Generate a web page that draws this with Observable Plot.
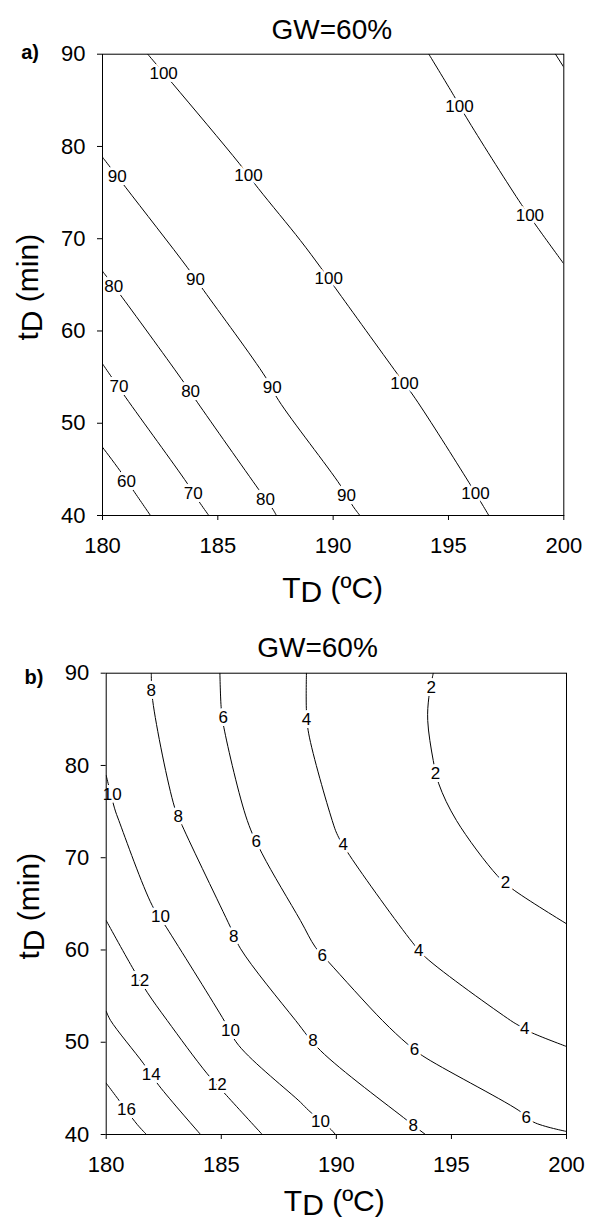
<!DOCTYPE html>
<html><head><meta charset="utf-8">
<script src="https://cdn.jsdelivr.net/npm/d3@7"></script>
<script src="https://cdn.jsdelivr.net/npm/@observablehq/plot@0.6"></script>
<style>
body{margin:0;background:#fff;}
#wrap{position:relative;width:589px;height:1222px;overflow:hidden;}
#pa{position:absolute;left:0;top:0;}
#pb{position:absolute;left:0;top:620px;}
svg{overflow:visible;}
</style></head><body><div id="wrap"><div id="pa"></div><div id="pb"></div></div>
<script>
// ---- shared axis data ----
const xTicks = [180, 185, 190, 195, 200];
const yTicks = [40, 50, 60, 70, 80, 90];
const titleText = "GW=60%";

// ---- panel a: contour lines [T_D (ºC), t_D (min)] ----
const a100_1 = [[181.96,90],[183.05,86.79],[185.94,78.12],[186.76,75.44],[188.58,69.81],[189.45,66.91],[190.10,64.64],[192.78,55.36],[193.57,52.65],[195.88,43.61],[196.75,40]];
const a100_2 = [[194.15,90],[195.23,85.52],[195.77,83.17],[198.05,74.14],[198.85,71.25],[200,67.28]];
const a100_3 = [[199.64,90],[200,88.59]];
const a90 = [[180,78.84],[181.00,75.58],[183.67,66.91],[184.39,64.39],[187.07,54.99],[187.64,52.46],[190.32,43.25],[190.87,40.97],[191.16,40]];
const a80 = [[180,66.48],[180.85,63.66],[183.52,54.45],[184.11,52.28],[186.78,42.79],[187.40,40.62],[187.54,40]];
const a70 = [[180,56.44],[181.00,52.82],[183.67,43.50],[184.25,41.27],[184.61,40]];
const a60 = [[180,47.40],[180.75,44.88],[181.36,42.63],[182.08,40]];
// contour labels [level, T, t]
const aLabels = [
  [100,182.65,87.9],[100,186.33,76.9],[100,189.81,65.7],[100,193.09,54.28],[100,196.17,42.35],
  [100,195.48,84.33],[100,198.53,72.52],
  [90,180.64,76.78],[90,184.03,65.55],[90,187.36,53.91],[90,190.58,42.17],
  [80,180.49,64.82],[80,183.82,53.47],[80,187.07,41.70],
  [70,180.71,54.01],[70,183.93,42.35],
  [60,181.04,43.72]
];

// ---- panel b ----
const b2 = [[194.21,90],[194.02,87.40],[193.97,84.87],[194.21,80.54],[194.45,78.01],[195.22,74.03],[196.99,68.07],[197.64,66.63],[200,62.84]];
const b4 = [[188.70,90],[188.70,85.96],[188.80,83.43],[189.82,74.03],[190.06,72.41],[190.58,70.24],[193.30,60.84],[193.87,59.22],[197.57,52.36],[197.93,51.81],[198.44,51.09],[200,49.54]];
const b6 = [[184.94,90],[185.00,86.14],[185.11,84.15],[186.13,74.03],[186.78,70.42],[188.44,63.19],[189.09,60.30],[189.67,58.68],[192.0,52.36],[193.08,49.83],[193.73,48.56],[197.93,42.60],[198.58,41.33],[200,40.33]];
const b8 = [[181.96,90],[182.02,87.04],[182.97,75.48],[183.30,73.49],[185.40,62.47],[185.84,60.13],[188.23,52.36],[189.31,49.10],[193.08,41.52],[193.87,40]];
const b10 = [[180,78.91],[180.37,75.30],[180.55,74.03],[182.0,64.82],[182.61,62.47],[185.04,52.71],[185.76,49.65],[188.44,43.50],[188.80,42.60],[189.78,40.51],[189.96,40]];
const b12 = [[180,63.19],[181.13,58.13],[181.78,55.42],[182.65,52.36],[184.39,46.58],[185.23,44.23],[186.78,40]];
const b14 = [[180,53.36],[180.19,52.36],[181.63,47.66],[182.29,45.31],[184.10,40]];
const b16 = [[180,45.56],[180.40,44.23],[181.35,41.08],[181.75,40]];
const bLabels = [
  [2,194.12,88.48],[2,194.31,79.16],[2,197.35,67.35],
  [4,188.70,84.95],[4,190.30,71.43],[4,193.58,59.94],[4,198.18,51.46],
  [6,185.08,85.23],[6,186.52,71.8],[6,189.39,59.40],[6,193.40,49.22],[6,198.25,41.88],
  [8,181.96,88.12],[8,183.13,74.46],[8,185.54,61.46],[8,188.99,50.18],[8,193.34,40.94],
  [10,180.26,76.85],[10,182.36,63.63],[10,185.40,51.3],[10,189.31,41.44],
  [12,181.46,56.69],[12,184.82,45.42],
  [14,181.96,46.50],
  [16,180.88,42.68]
];

const FONT = "'Liberation Sans', Arial, Helvetica, sans-serif";

function panel(c) {
  const rows = c.lines.flatMap((pts, i) => pts.map(([T, t]) => ({T, t, id: i})));
  const labs = c.labels.map(([level, T, t]) => ({level, T, t}));
  const txt = (s, o) => Plot.text([s], {text: d => d, fill: "black", ...o});
  return Plot.plot({
    width: 589, height: c.height,
    marginTop: c.mt, marginBottom: c.mb, marginLeft: c.ml, marginRight: c.mr,
    style: {fontFamily: FONT, fontSize: "22px", color: "black", background: "white", overflow: "visible"},
    x: {domain: [180, 200]},
    y: {domain: [40, 90]},
    marks: [
      Plot.line(rows, {x: "T", y: "t", z: "id", curve: "catmull-rom", stroke: "black", strokeWidth: 1, clip: true}),
      Plot.text(labs, {x: "T", y: "t", text: d => String(d.level), fontSize: 17, fill: "black", stroke: "white", strokeWidth: 6}),
      Plot.axisX({ticks: xTicks, tickSize: 5, tickPadding: 16.5, label: null, fontSize: 22, tickFormat: d => String(d)}),
      Plot.axisY({ticks: yTicks, tickSize: 5, tickPadding: 12, label: null, fontSize: 22, tickFormat: d => String(d)}),
      Plot.frame({stroke: "black", strokeWidth: 1}),
      txt(titleText, {frameAnchor: "top", lineAnchor: "bottom", dx: c.title[0], dy: c.title[1], fontSize: 28}),
      txt(c.tag, {frameAnchor: "top-left", textAnchor: "start", lineAnchor: "bottom", dx: c.tagPos[0], dy: c.tagPos[1], fontSize: 20, fontWeight: "bold"}),
      // x axis title: T with lowered D
      txt("T", {frameAnchor: "bottom", textAnchor: "start", lineAnchor: "bottom", dx: c.xT[0], dy: c.xT[1], fontSize: 30}),
      txt("D", {frameAnchor: "bottom", textAnchor: "start", lineAnchor: "bottom", dx: c.xT[0] + 18.3, dy: c.xT[1] + 4.5, fontSize: 30}),
      txt("(ºC)", {frameAnchor: "bottom", textAnchor: "start", lineAnchor: "bottom", dx: c.xT[0] + 48.3, dy: c.xT[1], fontSize: 30}),
      // y axis title: t with lowered D, rotated
      txt("t", {frameAnchor: "left", rotate: -90, textAnchor: "start", lineAnchor: "bottom", dx: c.yT[0], dy: c.yT[1], fontSize: 30}),
      txt("D", {frameAnchor: "left", rotate: -90, textAnchor: "start", lineAnchor: "bottom", dx: c.yT[0] + 4.5, dy: c.yT[1] - 8.3, fontSize: 30}),
      txt("(min)", {frameAnchor: "left", rotate: -90, textAnchor: "start", lineAnchor: "bottom", dx: c.yT[0], dy: c.yT[1] - 38.3, fontSize: 30})
    ]
  });
}

document.getElementById("pa").append(panel({
  lines: [a100_1, a100_2, a100_3, a90, a80, a70, a60], labels: aLabels,
  height: 600, mt: 53.7, mb: 85, ml: 102, mr: 25.7,
  title: [-1.35, -15.4], tag: "a)", tagPos: [-81.3, 4.3],
  xT: [-51, 82], yT: [-65, 55.6]
}));
document.getElementById("pb").append(panel({
  lines: [b2, b4, b6, b8, b10, b12, b14, b16], labels: bLabels,
  height: 602, mt: 52.7, mb: 88, ml: 105.7, mr: 23,
  title: [-18.85, -16.2], tag: "b)", tagPos: [-81.7, 10.6],
  xT: [-52.5, 76], yT: [-67, 55.6]
}));
</script></body></html>
